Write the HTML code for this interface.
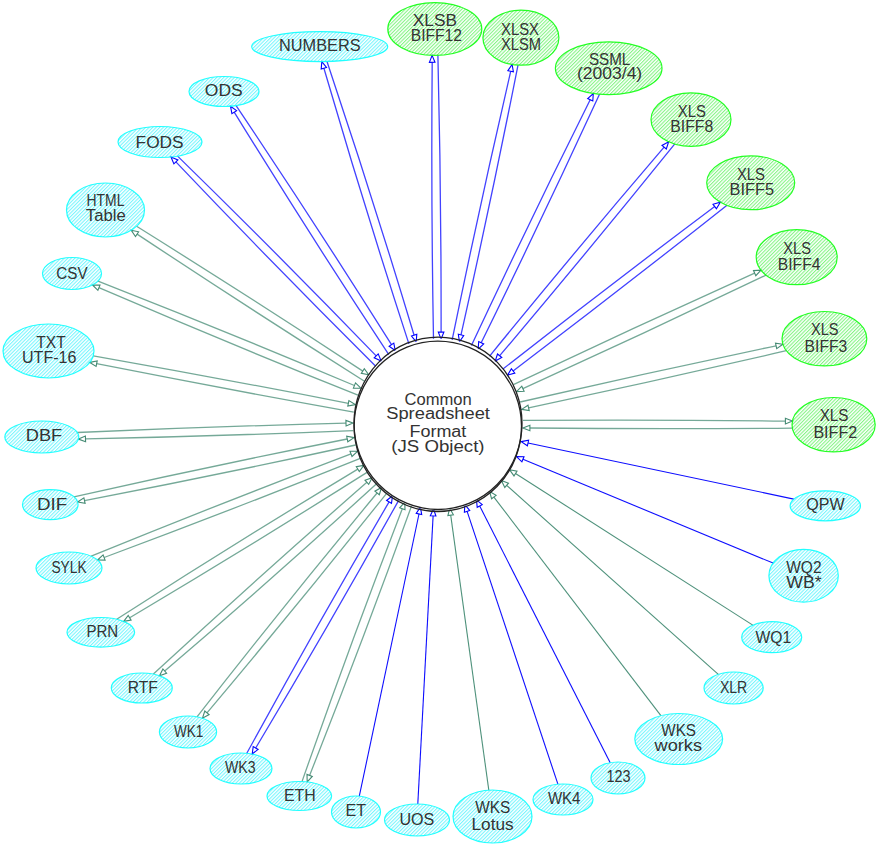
<!DOCTYPE html>
<html><head><meta charset="utf-8"><style>
html,body{margin:0;padding:0;background:#fff;width:878px;height:846px;overflow:hidden}
svg{display:block}
text{font-family:"Liberation Sans",sans-serif;font-size:16px;fill:#333;text-anchor:middle}
</style></head><body>
<svg width="878" height="846" viewBox="0 0 878 846">
<defs>
<pattern id="hc" patternUnits="userSpaceOnUse" width="2.5" height="10" patternTransform="rotate(45)"><rect x="0" y="0" width="1.1" height="10" fill="#78f5fd"/></pattern>
<pattern id="hg" patternUnits="userSpaceOnUse" width="2.5" height="10" patternTransform="rotate(45)"><rect x="0" y="0" width="1.1" height="10" fill="#86f486"/></pattern>
</defs>
<rect width="878" height="846" fill="#fff"/>
<polygon points="416.2,341.8 411.5,336.0 416.8,334.3" fill="#fff" stroke="#0000ff" stroke-width="1.1"/>
<path d="M327.0 61.5Q372.7 197.7 414.1 335.2" fill="none" stroke="#0000ff" stroke-width="1.3" stroke-opacity="0.74"/>
<polygon points="321.8,61.6 326.5,67.4 321.2,69.1" fill="#fff" stroke="#0000ff" stroke-width="1.1"/>
<path d="M323.9 68.3Q364.3 206.9 409.0 344.1" fill="none" stroke="#0000ff" stroke-width="1.3" stroke-opacity="0.74"/>
<polygon points="441.1,339.1 438.3,332.1 443.9,332.0" fill="#fff" stroke="#0000ff" stroke-width="1.1"/>
<path d="M437.9 55.3Q441.3 193.7 441.1 332.1" fill="none" stroke="#0000ff" stroke-width="1.3" stroke-opacity="0.74"/>
<polygon points="432.1,55.4 435.0,62.3 429.4,62.4" fill="#fff" stroke="#0000ff" stroke-width="1.1"/>
<path d="M432.2 62.4Q431.0 200.8 433.5 339.1" fill="none" stroke="#0000ff" stroke-width="1.3" stroke-opacity="0.74"/>
<polygon points="459.5,341.8 458.3,334.3 463.7,335.5" fill="#fff" stroke="#0000ff" stroke-width="1.1"/>
<path d="M518.0 65.1Q491.2 200.4 461.0 334.9" fill="none" stroke="#0000ff" stroke-width="1.3" stroke-opacity="0.74"/>
<polygon points="512.1,64.5 513.4,71.9 507.9,70.7" fill="#fff" stroke="#0000ff" stroke-width="1.1"/>
<path d="M510.7 71.3Q479.7 205.4 452.1 340.2" fill="none" stroke="#0000ff" stroke-width="1.3" stroke-opacity="0.74"/>
<polygon points="478.2,349.1 478.7,341.6 483.7,344.0" fill="#fff" stroke="#0000ff" stroke-width="1.1"/>
<path d="M599.5 94.2Q541.9 219.2 481.2 342.8" fill="none" stroke="#0000ff" stroke-width="1.3" stroke-opacity="0.74"/>
<polygon points="593.3,93.5 592.8,101.0 587.7,98.6" fill="#fff" stroke="#0000ff" stroke-width="1.1"/>
<path d="M590.2 99.8Q529.2 222.0 471.3 345.8" fill="none" stroke="#0000ff" stroke-width="1.3" stroke-opacity="0.74"/>
<polygon points="495.2,361.1 497.5,354.0 501.8,357.5" fill="#fff" stroke="#0000ff" stroke-width="1.1"/>
<path d="M674.6 144.1Q588.4 251.0 499.7 355.7" fill="none" stroke="#0000ff" stroke-width="1.3" stroke-opacity="0.74"/>
<polygon points="668.6,141.8 666.3,149.0 662.0,145.4" fill="#fff" stroke="#0000ff" stroke-width="1.1"/>
<path d="M664.1 147.2Q575.5 250.7 489.4 356.3" fill="none" stroke="#0000ff" stroke-width="1.3" stroke-opacity="0.74"/>
<polygon points="507.6,375.1 511.4,368.7 514.8,373.1" fill="#fff" stroke="#0000ff" stroke-width="1.1"/>
<path d="M726.7 205.4Q620.8 289.3 513.1 370.9" fill="none" stroke="#0000ff" stroke-width="1.3" stroke-opacity="0.74"/>
<polygon points="720.3,202.2 716.4,208.7 713.0,204.3" fill="#fff" stroke="#0000ff" stroke-width="1.1"/>
<path d="M714.7 206.5Q607.9 286.6 502.9 369.1" fill="none" stroke="#0000ff" stroke-width="1.3" stroke-opacity="0.74"/>
<polygon points="516.6,391.6 521.8,386.2 524.1,391.2" fill="#fff" stroke="#458b74" stroke-width="1.1"/>
<path d="M766.0 275.1Q645.1 333.2 522.9 388.7" fill="none" stroke="#458b74" stroke-width="1.3" stroke-opacity="0.74"/>
<polygon points="761.0,270.2 755.8,275.7 753.5,270.6" fill="#fff" stroke="#458b74" stroke-width="1.1"/>
<path d="M754.6 273.1Q633.4 327.7 513.4 384.7" fill="none" stroke="#458b74" stroke-width="1.3" stroke-opacity="0.74"/>
<polygon points="521.7,409.4 528.0,405.2 529.2,410.6" fill="#fff" stroke="#458b74" stroke-width="1.1"/>
<path d="M786.3 350.7Q657.7 380.5 528.6 407.9" fill="none" stroke="#458b74" stroke-width="1.3" stroke-opacity="0.74"/>
<polygon points="782.9,344.3 776.7,348.6 775.5,343.1" fill="#fff" stroke="#458b74" stroke-width="1.1"/>
<path d="M776.1 345.8Q647.8 372.7 520.1 402.0" fill="none" stroke="#458b74" stroke-width="1.3" stroke-opacity="0.74"/>
<polygon points="522.9,428.0 529.9,425.2 529.9,430.8" fill="#fff" stroke="#458b74" stroke-width="1.1"/>
<path d="M792.3 428.1Q661.1 429.3 529.9 428.0" fill="none" stroke="#458b74" stroke-width="1.3" stroke-opacity="0.74"/>
<polygon points="792.4,421.1 785.4,423.9 785.4,418.3" fill="#fff" stroke="#458b74" stroke-width="1.1"/>
<path d="M785.4 421.1Q654.1 419.5 522.9 420.4" fill="none" stroke="#458b74" stroke-width="1.3" stroke-opacity="0.74"/>
<polygon points="521.2,441.6 528.6,440.3 527.4,445.8" fill="#fff" stroke="#0000ff" stroke-width="1.1"/>
<path d="M793.8 499.1Q660.9 471.1 528.0 443.0" fill="none" stroke="#0000ff" stroke-width="1.1" stroke-opacity="0.95"/>
<polygon points="516.5,456.6 524.0,456.7 521.9,461.8" fill="#fff" stroke="#0000ff" stroke-width="1.1"/>
<path d="M773.1 563.1Q648.1 511.2 523.0 459.3" fill="none" stroke="#0000ff" stroke-width="1.1" stroke-opacity="0.95"/>
<polygon points="509.6,469.8 517.0,471.2 514.0,475.9" fill="#fff" stroke="#458b74" stroke-width="1.1"/>
<path d="M752.8 625.1Q634.2 549.3 515.5 473.5" fill="none" stroke="#458b74" stroke-width="1.1" stroke-opacity="0.95"/>
<polygon points="501.4,480.6 508.5,483.2 504.8,487.4" fill="#fff" stroke="#458b74" stroke-width="1.1"/>
<path d="M718.3 674.3Q612.4 579.8 506.6 485.3" fill="none" stroke="#458b74" stroke-width="1.1" stroke-opacity="0.95"/>
<polygon points="489.6,491.5 496.1,495.4 491.6,498.8" fill="#fff" stroke="#458b74" stroke-width="1.1"/>
<path d="M660.9 715.7Q577.4 606.4 493.9 497.1" fill="none" stroke="#458b74" stroke-width="1.1" stroke-opacity="0.95"/>
<polygon points="476.5,499.8 482.2,504.7 477.2,507.3" fill="#fff" stroke="#0000ff" stroke-width="1.1"/>
<path d="M610.2 762.7Q545.0 634.3 479.7 506.0" fill="none" stroke="#0000ff" stroke-width="1.1" stroke-opacity="0.95"/>
<polygon points="464.8,504.6 469.7,510.4 464.4,512.2" fill="#fff" stroke="#0000ff" stroke-width="1.1"/>
<path d="M557.9 784.2Q512.5 647.8 467.1 511.3" fill="none" stroke="#0000ff" stroke-width="1.1" stroke-opacity="0.95"/>
<polygon points="449.7,508.2 453.4,514.7 447.9,515.5" fill="#fff" stroke="#458b74" stroke-width="1.1"/>
<path d="M488.8 790.1Q469.7 652.6 450.7 515.1" fill="none" stroke="#458b74" stroke-width="1.1" stroke-opacity="0.95"/>
<polygon points="433.5,508.9 435.9,516.0 430.3,515.7" fill="#fff" stroke="#0000ff" stroke-width="1.1"/>
<path d="M417.8 804.0Q425.5 659.9 433.1 515.9" fill="none" stroke="#0000ff" stroke-width="1.1" stroke-opacity="0.95"/>
<polygon points="420.4,507.2 421.7,514.6 416.2,513.4" fill="#fff" stroke="#0000ff" stroke-width="1.1"/>
<path d="M359.3 796.2Q389.2 655.1 419.0 514.0" fill="none" stroke="#0000ff" stroke-width="1.1" stroke-opacity="0.95"/>
<polygon points="404.8,502.2 405.0,509.8 399.7,507.8" fill="#fff" stroke="#458b74" stroke-width="1.1"/>
<path d="M302.0 781.6Q350.1 644.4 402.3 508.8" fill="none" stroke="#458b74" stroke-width="1.3" stroke-opacity="0.74"/>
<polygon points="307.2,781.9 307.0,774.4 312.3,776.4" fill="#fff" stroke="#458b74" stroke-width="1.1"/>
<path d="M309.6 775.4Q362.8 640.9 411.9 504.9" fill="none" stroke="#458b74" stroke-width="1.3" stroke-opacity="0.74"/>
<polygon points="392.5,495.8 391.5,503.3 386.6,500.5" fill="#fff" stroke="#0000ff" stroke-width="1.1"/>
<path d="M246.8 753.3Q316.1 626.5 389.1 501.9" fill="none" stroke="#0000ff" stroke-width="1.3" stroke-opacity="0.74"/>
<polygon points="252.2,754.0 253.2,746.6 258.1,749.4" fill="#fff" stroke="#0000ff" stroke-width="1.1"/>
<path d="M255.7 748.0Q329.3 624.9 399.1 499.6" fill="none" stroke="#0000ff" stroke-width="1.3" stroke-opacity="0.74"/>
<polygon points="381.5,487.5 379.3,494.7 374.9,491.2" fill="#fff" stroke="#458b74" stroke-width="1.1"/>
<path d="M197.0 716.8Q285.4 603.6 377.1 493.0" fill="none" stroke="#458b74" stroke-width="1.3" stroke-opacity="0.74"/>
<polygon points="202.5,718.2 204.8,711.0 209.1,714.6" fill="#fff" stroke="#458b74" stroke-width="1.1"/>
<path d="M207.0 712.8Q298.8 603.9 387.4 492.3" fill="none" stroke="#458b74" stroke-width="1.3" stroke-opacity="0.74"/>
<polygon points="372.1,477.7 368.7,484.4 365.0,480.2" fill="#fff" stroke="#458b74" stroke-width="1.1"/>
<path d="M153.4 674.1Q258.8 576.7 366.9 482.3" fill="none" stroke="#458b74" stroke-width="1.3" stroke-opacity="0.74"/>
<polygon points="159.5,675.8 162.9,669.0 166.6,673.2" fill="#fff" stroke="#458b74" stroke-width="1.1"/>
<path d="M164.7 671.1Q272.3 578.8 377.1 483.3" fill="none" stroke="#458b74" stroke-width="1.3" stroke-opacity="0.74"/>
<polygon points="363.8,465.4 359.3,471.5 356.3,466.7" fill="#fff" stroke="#458b74" stroke-width="1.1"/>
<path d="M116.7 619.2Q236.2 542.5 357.8 469.1" fill="none" stroke="#458b74" stroke-width="1.3" stroke-opacity="0.74"/>
<polygon points="123.7,621.4 128.2,615.4 131.1,620.1" fill="#fff" stroke="#458b74" stroke-width="1.1"/>
<path d="M129.7 617.7Q249.7 546.4 367.8 471.9" fill="none" stroke="#458b74" stroke-width="1.3" stroke-opacity="0.74"/>
<polygon points="357.5,451.3 352.0,456.5 350.0,451.3" fill="#fff" stroke="#458b74" stroke-width="1.1"/>
<path d="M91.2 556.2Q220.5 503.4 351.0 453.9" fill="none" stroke="#458b74" stroke-width="1.3" stroke-opacity="0.74"/>
<polygon points="97.6,560.0 103.1,554.9 105.1,560.1" fill="#fff" stroke="#458b74" stroke-width="1.1"/>
<path d="M104.1 557.5Q232.8 509.6 360.3 458.4" fill="none" stroke="#458b74" stroke-width="1.3" stroke-opacity="0.74"/>
<polygon points="354.1,437.6 347.8,441.8 346.7,436.3" fill="#fff" stroke="#458b74" stroke-width="1.1"/>
<path d="M73.9 496.8Q210.2 466.2 347.2 439.0" fill="none" stroke="#458b74" stroke-width="1.3" stroke-opacity="0.74"/>
<polygon points="77.6,502.0 83.9,497.8 85.1,503.3" fill="#fff" stroke="#458b74" stroke-width="1.1"/>
<path d="M84.5 500.6Q220.4 474.5 355.6 445.0" fill="none" stroke="#458b74" stroke-width="1.3" stroke-opacity="0.74"/>
<polygon points="353.0,423.0 346.1,426.0 345.9,420.4" fill="#fff" stroke="#458b74" stroke-width="1.1"/>
<path d="M77.3 432.5Q211.6 426.5 346.0 423.2" fill="none" stroke="#458b74" stroke-width="1.3" stroke-opacity="0.74"/>
<polygon points="78.5,439.1 85.4,436.1 85.6,441.7" fill="#fff" stroke="#458b74" stroke-width="1.1"/>
<path d="M85.5 438.9Q219.4 436.1 353.3 430.6" fill="none" stroke="#458b74" stroke-width="1.3" stroke-opacity="0.74"/>
<polygon points="355.2,404.6 347.8,406.1 348.9,400.6" fill="#fff" stroke="#458b74" stroke-width="1.1"/>
<path d="M93.3 355.8Q221.0 378.4 348.4 403.3" fill="none" stroke="#458b74" stroke-width="1.3" stroke-opacity="0.74"/>
<polygon points="89.8,362.4 97.2,360.9 96.1,366.4" fill="#fff" stroke="#458b74" stroke-width="1.1"/>
<path d="M96.6 363.7Q225.0 389.0 353.8 412.1" fill="none" stroke="#458b74" stroke-width="1.3" stroke-opacity="0.74"/>
<polygon points="360.9,388.2 353.4,388.1 355.5,382.9" fill="#fff" stroke="#458b74" stroke-width="1.1"/>
<path d="M98.0 281.1Q226.9 331.6 354.4 385.5" fill="none" stroke="#458b74" stroke-width="1.3" stroke-opacity="0.74"/>
<polygon points="92.5,285.0 100.0,285.1 97.9,290.3" fill="#fff" stroke="#458b74" stroke-width="1.1"/>
<path d="M98.9 287.7Q227.8 343.1 358.0 395.2" fill="none" stroke="#458b74" stroke-width="1.3" stroke-opacity="0.74"/>
<polygon points="368.7,374.8 361.3,373.4 364.3,368.7" fill="#fff" stroke="#458b74" stroke-width="1.1"/>
<path d="M136.6 226.3Q250.5 297.4 362.8 371.1" fill="none" stroke="#458b74" stroke-width="1.3" stroke-opacity="0.74"/>
<polygon points="131.2,230.3 138.6,231.8 135.5,236.5" fill="#fff" stroke="#458b74" stroke-width="1.1"/>
<path d="M137.1 234.1Q250.0 308.9 364.5 381.2" fill="none" stroke="#458b74" stroke-width="1.3" stroke-opacity="0.74"/>
<polygon points="381.1,360.9 374.2,357.8 378.2,353.9" fill="#fff" stroke="#0000ff" stroke-width="1.1"/>
<path d="M177.6 156.1Q278.3 254.6 376.2 355.9" fill="none" stroke="#0000ff" stroke-width="1.3" stroke-opacity="0.74"/>
<polygon points="171.0,157.0 177.9,160.0 173.9,163.9" fill="#fff" stroke="#0000ff" stroke-width="1.1"/>
<path d="M175.9 161.9Q274.4 265.5 375.7 366.2" fill="none" stroke="#0000ff" stroke-width="1.3" stroke-opacity="0.74"/>
<polygon points="395.2,350.5 389.1,346.2 393.8,343.1" fill="#fff" stroke="#0000ff" stroke-width="1.1"/>
<path d="M236.1 105.6Q315.6 224.0 391.5 344.7" fill="none" stroke="#0000ff" stroke-width="1.3" stroke-opacity="0.74"/>
<polygon points="230.5,106.2 236.6,110.6 231.9,113.6" fill="#fff" stroke="#0000ff" stroke-width="1.1"/>
<path d="M234.2 112.1Q309.7 234.6 388.8 354.7" fill="none" stroke="#0000ff" stroke-width="1.3" stroke-opacity="0.74"/>
<ellipse cx="438" cy="424.5" rx="84" ry="86" fill="#fff" stroke="none"/>
<ellipse cx="438" cy="423.3" rx="84" ry="86.2" fill="none" stroke="#222" stroke-width="1.3"/>
<ellipse cx="437.8" cy="426.3" rx="83.7" ry="85.2" fill="none" stroke="#222" stroke-width="1.3"/>
<text x="438.1" y="404.9" textLength="67.2" lengthAdjust="spacingAndGlyphs">Common</text>
<text x="438.1" y="419.0" textLength="103.7" lengthAdjust="spacingAndGlyphs">Spreadsheet</text>
<text x="437.9" y="436.8" textLength="56.9" lengthAdjust="spacingAndGlyphs">Format</text>
<text x="437.9" y="452.0" textLength="93.3" lengthAdjust="spacingAndGlyphs">(JS Object)</text>
<ellipse cx="319.7" cy="46.6" rx="68.0" ry="15.0" fill="url(#hc)" stroke="#00ffff" stroke-width="1.2" stroke-opacity="0.85"/>
<text x="319.8" y="50.8" textLength="81.5" lengthAdjust="spacingAndGlyphs">NUMBERS</text>
<ellipse cx="434.8" cy="29.0" rx="47.0" ry="26.4" fill="url(#hg)" stroke="#00ff00" stroke-width="1.2" stroke-opacity="0.85"/>
<text x="434.9" y="25.6" textLength="44.1" lengthAdjust="spacingAndGlyphs">XLSB</text>
<text x="436.4" y="41.0" textLength="51.2" lengthAdjust="spacingAndGlyphs">BIFF12</text>
<ellipse cx="520.9" cy="37.7" rx="38.0" ry="27.5" fill="url(#hg)" stroke="#00ff00" stroke-width="1.2" stroke-opacity="0.85"/>
<text x="520.0" y="34.9" textLength="37.9" lengthAdjust="spacingAndGlyphs">XLSX</text>
<text x="521.0" y="50.2" textLength="40.0" lengthAdjust="spacingAndGlyphs">XLSM</text>
<ellipse cx="608.7" cy="68.2" rx="53.3" ry="26.4" fill="url(#hg)" stroke="#00ff00" stroke-width="1.2" stroke-opacity="0.85"/>
<text x="609.6" y="65.0" textLength="41.4" lengthAdjust="spacingAndGlyphs">SSML</text>
<text x="609.6" y="78.8" textLength="65.2" lengthAdjust="spacingAndGlyphs">(2003/4)</text>
<ellipse cx="691.0" cy="119.6" rx="40.0" ry="26.8" fill="url(#hg)" stroke="#00ff00" stroke-width="1.2" stroke-opacity="0.85"/>
<text x="691.8" y="117.4" textLength="28.1" lengthAdjust="spacingAndGlyphs">XLS</text>
<text x="691.8" y="132.2" textLength="42.9" lengthAdjust="spacingAndGlyphs">BIFF8</text>
<ellipse cx="750.7" cy="182.8" rx="44.0" ry="26.9" fill="url(#hg)" stroke="#00ff00" stroke-width="1.2" stroke-opacity="0.85"/>
<text x="751.0" y="179.5" textLength="28.1" lengthAdjust="spacingAndGlyphs">XLS</text>
<text x="751.8" y="195.2" textLength="44.5" lengthAdjust="spacingAndGlyphs">BIFF5</text>
<ellipse cx="796.7" cy="257.2" rx="40.5" ry="27.5" fill="url(#hg)" stroke="#00ff00" stroke-width="1.2" stroke-opacity="0.85"/>
<text x="797.1" y="254.0" textLength="27.6" lengthAdjust="spacingAndGlyphs">XLS</text>
<text x="799.1" y="269.7" textLength="42.6" lengthAdjust="spacingAndGlyphs">BIFF4</text>
<ellipse cx="824.4" cy="338.7" rx="42.4" ry="27.2" fill="url(#hg)" stroke="#00ff00" stroke-width="1.2" stroke-opacity="0.85"/>
<text x="824.7" y="335.3" textLength="27.6" lengthAdjust="spacingAndGlyphs">XLS</text>
<text x="825.9" y="351.6" textLength="42.6" lengthAdjust="spacingAndGlyphs">BIFF3</text>
<ellipse cx="833.6" cy="424.7" rx="41.6" ry="27.2" fill="url(#hg)" stroke="#00ff00" stroke-width="1.2" stroke-opacity="0.85"/>
<text x="834.1" y="421.4" textLength="28.8" lengthAdjust="spacingAndGlyphs">XLS</text>
<text x="835.3" y="437.6" textLength="43.8" lengthAdjust="spacingAndGlyphs">BIFF2</text>
<ellipse cx="825.3" cy="505.8" rx="35.2" ry="15.0" fill="url(#hc)" stroke="#00ffff" stroke-width="1.2" stroke-opacity="0.85"/>
<text x="825.5" y="510.3" textLength="38.3" lengthAdjust="spacingAndGlyphs">QPW</text>
<ellipse cx="803.6" cy="575.7" rx="34.7" ry="26.4" fill="url(#hc)" stroke="#00ffff" stroke-width="1.2" stroke-opacity="0.85"/>
<text x="803.9" y="572.7" textLength="35.4" lengthAdjust="spacingAndGlyphs">WQ2</text>
<text x="803.9" y="587.9" textLength="35.4" lengthAdjust="spacingAndGlyphs">WB*</text>
<ellipse cx="771.7" cy="637.2" rx="30.0" ry="15.5" fill="url(#hc)" stroke="#00ffff" stroke-width="1.2" stroke-opacity="0.85"/>
<text x="773.4" y="643.0" textLength="35.7" lengthAdjust="spacingAndGlyphs">WQ1</text>
<ellipse cx="733.6" cy="688.0" rx="29.6" ry="16.0" fill="url(#hc)" stroke="#00ffff" stroke-width="1.2" stroke-opacity="0.85"/>
<text x="733.6" y="693.0" textLength="27.4" lengthAdjust="spacingAndGlyphs">XLR</text>
<ellipse cx="678.7" cy="739.0" rx="43.9" ry="25.5" fill="url(#hc)" stroke="#00ffff" stroke-width="1.2" stroke-opacity="0.85"/>
<text x="678.6" y="736.3" textLength="34.7" lengthAdjust="spacingAndGlyphs">WKS</text>
<text x="678.3" y="751.4" textLength="47.4" lengthAdjust="spacingAndGlyphs">works</text>
<ellipse cx="618.0" cy="778.0" rx="27.0" ry="16.0" fill="url(#hc)" stroke="#00ffff" stroke-width="1.2" stroke-opacity="0.85"/>
<text x="618.6" y="782.4" textLength="24.1" lengthAdjust="spacingAndGlyphs">123</text>
<ellipse cx="563.0" cy="799.5" rx="30.0" ry="15.5" fill="url(#hc)" stroke="#00ffff" stroke-width="1.2" stroke-opacity="0.85"/>
<text x="564.2" y="804.4" textLength="32.6" lengthAdjust="spacingAndGlyphs">WK4</text>
<ellipse cx="492.5" cy="816.5" rx="39.5" ry="26.5" fill="url(#hc)" stroke="#00ffff" stroke-width="1.2" stroke-opacity="0.85"/>
<text x="492.8" y="813.2" textLength="35.1" lengthAdjust="spacingAndGlyphs">WKS</text>
<text x="492.6" y="829.5" textLength="42.1" lengthAdjust="spacingAndGlyphs">Lotus</text>
<ellipse cx="417.0" cy="820.0" rx="32.5" ry="16.0" fill="url(#hc)" stroke="#00ffff" stroke-width="1.2" stroke-opacity="0.85"/>
<text x="416.9" y="825.0" textLength="34.9" lengthAdjust="spacingAndGlyphs">UOS</text>
<ellipse cx="356.0" cy="812.0" rx="24.5" ry="16.0" fill="url(#hc)" stroke="#00ffff" stroke-width="1.2" stroke-opacity="0.85"/>
<text x="355.7" y="816.2" textLength="20.6" lengthAdjust="spacingAndGlyphs">ET</text>
<ellipse cx="299.3" cy="796.0" rx="32.3" ry="14.5" fill="url(#hc)" stroke="#00ffff" stroke-width="1.2" stroke-opacity="0.85"/>
<text x="299.9" y="800.7" textLength="31.8" lengthAdjust="spacingAndGlyphs">ETH</text>
<ellipse cx="241.0" cy="768.5" rx="31.0" ry="15.5" fill="url(#hc)" stroke="#00ffff" stroke-width="1.2" stroke-opacity="0.85"/>
<text x="240.3" y="772.6" textLength="30.6" lengthAdjust="spacingAndGlyphs">WK3</text>
<ellipse cx="188.0" cy="732.0" rx="28.6" ry="16.0" fill="url(#hc)" stroke="#00ffff" stroke-width="1.2" stroke-opacity="0.85"/>
<text x="188.7" y="736.6" textLength="29.4" lengthAdjust="spacingAndGlyphs">WK1</text>
<ellipse cx="141.8" cy="688.0" rx="30.5" ry="15.0" fill="url(#hc)" stroke="#00ffff" stroke-width="1.2" stroke-opacity="0.85"/>
<text x="142.8" y="693.2" textLength="30.1" lengthAdjust="spacingAndGlyphs">RTF</text>
<ellipse cx="100.8" cy="632.3" rx="33.8" ry="14.8" fill="url(#hc)" stroke="#00ffff" stroke-width="1.2" stroke-opacity="0.85"/>
<text x="102.3" y="637.0" textLength="31.8" lengthAdjust="spacingAndGlyphs">PRN</text>
<ellipse cx="69.0" cy="568.0" rx="33.0" ry="16.0" fill="url(#hc)" stroke="#00ffff" stroke-width="1.2" stroke-opacity="0.85"/>
<text x="69.0" y="573.0" textLength="35.1" lengthAdjust="spacingAndGlyphs">SYLK</text>
<ellipse cx="50.3" cy="504.7" rx="27.8" ry="15.0" fill="url(#hc)" stroke="#00ffff" stroke-width="1.2" stroke-opacity="0.85"/>
<text x="52.1" y="509.7" textLength="30.2" lengthAdjust="spacingAndGlyphs">DIF</text>
<ellipse cx="41.8" cy="437.0" rx="37.0" ry="16.0" fill="url(#hc)" stroke="#00ffff" stroke-width="1.2" stroke-opacity="0.85"/>
<text x="44.0" y="441.3" textLength="36.4" lengthAdjust="spacingAndGlyphs">DBF</text>
<ellipse cx="48.5" cy="351.0" rx="45.5" ry="27.0" fill="url(#hc)" stroke="#00ffff" stroke-width="1.2" stroke-opacity="0.85"/>
<text x="51.0" y="348.0" textLength="29.4" lengthAdjust="spacingAndGlyphs">TXT</text>
<text x="49.2" y="363.3" textLength="54.4" lengthAdjust="spacingAndGlyphs">UTF-16</text>
<ellipse cx="72.0" cy="273.5" rx="29.5" ry="16.0" fill="url(#hc)" stroke="#00ffff" stroke-width="1.2" stroke-opacity="0.85"/>
<text x="72.0" y="278.8" textLength="31.3" lengthAdjust="spacingAndGlyphs">CSV</text>
<ellipse cx="105.5" cy="210.0" rx="39.0" ry="27.0" fill="url(#hc)" stroke="#00ffff" stroke-width="1.2" stroke-opacity="0.85"/>
<text x="105.5" y="205.7" textLength="37.9" lengthAdjust="spacingAndGlyphs">HTML</text>
<text x="105.8" y="221.4" textLength="39.9" lengthAdjust="spacingAndGlyphs">Table</text>
<ellipse cx="160.0" cy="142.0" rx="42.0" ry="15.5" fill="url(#hc)" stroke="#00ffff" stroke-width="1.2" stroke-opacity="0.85"/>
<text x="159.6" y="148.2" textLength="48.0" lengthAdjust="spacingAndGlyphs">FODS</text>
<ellipse cx="224.0" cy="91.5" rx="35.0" ry="15.0" fill="url(#hc)" stroke="#00ffff" stroke-width="1.2" stroke-opacity="0.85"/>
<text x="223.8" y="95.5" textLength="37.9" lengthAdjust="spacingAndGlyphs">ODS</text>
</svg>
</body></html>
